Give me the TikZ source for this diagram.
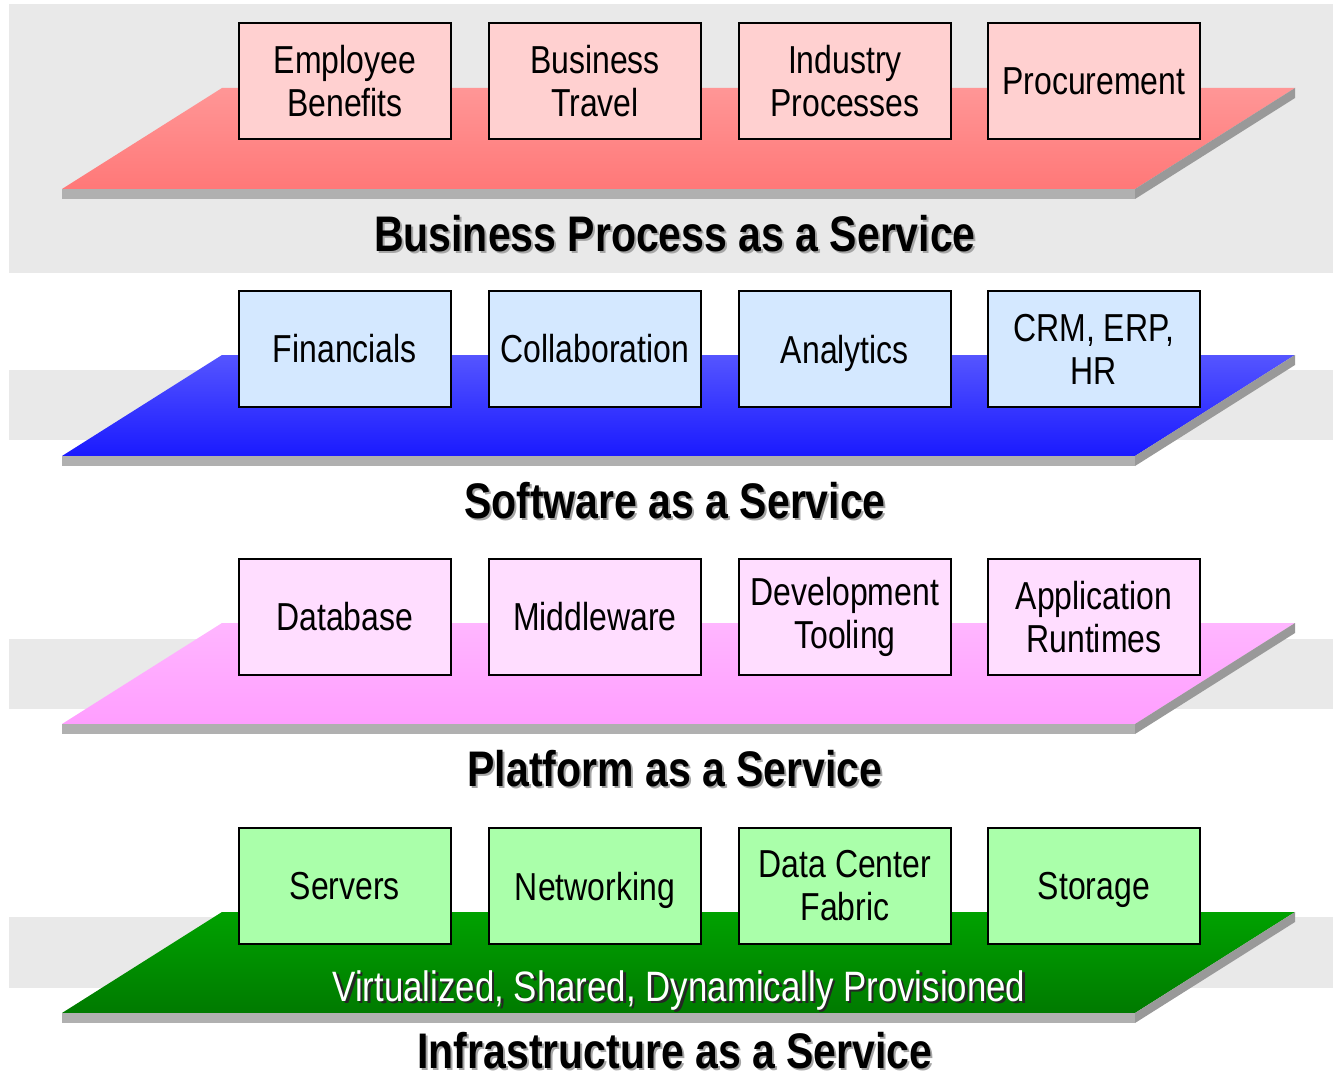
\documentclass[tikz,border=0pt]{standalone}
\usepackage{fontspec}
\setmainfont[FakeStretch=0.82]{Liberation Sans}
\begin{document}
\begin{tikzpicture}[x=1pt,y=-1pt,
  band/.style={fill=bandgray,draw=none},
  svcbox/.style={draw=black,line width=1.8pt,minimum width=212pt,minimum height=116pt,
    anchor=north west,inner sep=0pt,align=center,font=\fontsize{39}{43}\selectfont},
  nodesc/.style={text depth=0pt},
  ttl/.style={font=\bfseries\fontsize{50}{54}\selectfont,inner sep=0pt,text depth=0pt},
  sub/.style={font=\fontsize{42.5}{46}\selectfont,inner sep=0pt,text depth=0pt},
  stripb/.style={fill=stripgray,draw=none},
  strips/.style={fill=sidegray,draw=none}]
\definecolor{bandgray}{RGB}{233,233,233}
\definecolor{stripgray}{RGB}{176,176,176}
\definecolor{sidegray}{RGB}{153,153,153}
\definecolor{redtop}{RGB}{255,150,150}
\definecolor{redbot}{RGB}{255,120,120}
\definecolor{bluetop}{RGB}{85,85,255}
\definecolor{bluebot}{RGB}{26,26,255}
\definecolor{pinktop}{RGB}{255,182,255}
\definecolor{pinkbot}{RGB}{255,158,255}
\definecolor{greentop}{RGB}{0,162,0}
\definecolor{greenbot}{RGB}{0,122,0}
\definecolor{redbox}{RGB}{255,208,208}
\definecolor{bluebox}{RGB}{212,232,255}
\definecolor{pinkbox}{RGB}{255,221,255}
\definecolor{greenbox}{RGB}{170,255,170}
\definecolor{shadowgray}{RGB}{165,165,165}
\useasboundingbox (0,0) rectangle (1333,1078);
% background bands
\fill[band] (9,4) rectangle (1333,273);
\fill[band] (9,370) rectangle (1333,440);
\fill[band] (9,639) rectangle (1333,709);
\fill[band] (9,917) rectangle (1333,988);
% layers
\foreach \t/\ct/\cb in {88/redtop/redbot,355/bluetop/bluebot,623/pinktop/pinkbot,912/greentop/greenbot}{
  \shade[top color=\ct,bottom color=\cb] (222,\t) -- (1295,\t) -- (1135,\t+101) -- (62,\t+101) -- cycle;
  \fill[stripb] (62,\t+101) rectangle (1135,\t+111);
  \fill[strips] (1295,\t) -- (1295,\t+10) -- (1135,\t+111) -- (1135,\t+101) -- cycle;
}
% boxes layer 1
\node[svcbox,fill=redbox] (eb) at (238,22) {Employee\\Benefits};
\node[svcbox,fill=redbox] (bt) at (488,22) {Business\\Travel};
\node[svcbox,fill=redbox] (ip) at (738,22) {Industry\\Processes};
\node[svcbox,fill=redbox] (pr) at (987,22) {Procurement};
% layer 2
\node[svcbox,fill=bluebox] (fi) at (238,290) {Financials};
\node[svcbox,fill=bluebox] (co) at (488,290) {Collaboration};
\node[svcbox,fill=bluebox,nodesc] (an) at (738,290) {Analytics};
\node[svcbox,fill=bluebox] (cr) at (987,290) {CRM, ERP,\\HR};
% layer 3
\node[svcbox,fill=pinkbox] (db) at (238,558) {Database};
\node[svcbox,fill=pinkbox] (mw) at (488,558) {Middleware};
\node[svcbox,fill=pinkbox] (dt) at (738,558) {Development\\Tooling};
\node[svcbox,fill=pinkbox] (ar) at (987,558) {Application\\Runtimes};
% layer 4
\node[svcbox,fill=greenbox] (sv) at (238,827) {Servers};
\node[svcbox,fill=greenbox,nodesc] (nw) at (488,827) {Networking};
\node[svcbox,fill=greenbox] (dc) at (738,827) {Data Center\\Fabric};
\node[svcbox,fill=greenbox,nodesc] (st) at (987,827) {Storage};
% titles with shadows
\foreach \y/\txt in {233/Business Process as a Service,500/Software as a Service,768/Platform as a Service,1050/Infrastructure as a Service}{
  \node[ttl,text=shadowgray] at (677,\y+2) {\txt};
  \node[ttl,text=black] at (675,\y) {\txt};
}
\node[sub,text=black!85] (vsh) at (681.5,988.5) {Virtualized, Shared, Dynamically Provisioned};
\node[sub,text=white] (vir) at (679,986) {Virtualized, Shared, Dynamically Provisioned};
\end{tikzpicture}
\end{document}
